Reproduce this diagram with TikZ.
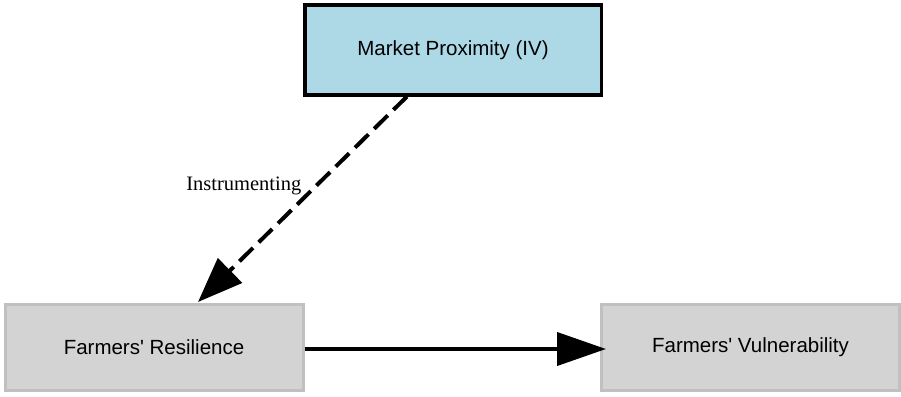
\documentclass[tikz,border=0pt]{standalone}
\usepackage{fontspec}
\setmainfont{Liberation Serif}
\newfontfamily\boxfont{Liberation Sans}
\usetikzlibrary{arrows.meta}

\definecolor{ivblue}{HTML}{ADD8E6}
\definecolor{boxgray}{HTML}{D3D3D3}
\definecolor{edgegray}{HTML}{C0C0C0}

\tikzset{
  varbox/.style={rectangle, inner sep=0pt, align=center,
    font=\boxfont\fontsize{20.5}{24}\selectfont},
  ivbox/.style={varbox, draw=black, fill=ivblue, line width=3.5pt,
    minimum width=296.5pt, minimum height=89.5pt},
  outcomebox/.style={varbox, draw=edgegray, fill=boxgray, line width=3pt,
    minimum width=298pt, minimum height=86pt},
  bigarrow/.style={-{Triangle[length=49pt, width=33pt]}, line width=4pt},
  ivarrow/.style={-{Triangle[length=45pt, width=34pt]}, line width=4pt,
    dash pattern=on 19pt off 8pt},
  edgelabel/.style={font=\fontsize{20.5}{24}\selectfont, inner sep=0pt}
}

\begin{document}
\begin{tikzpicture}[x=1pt, y=-1pt]
  \useasboundingbox (0,0) rectangle (901,396);

  \node[ivbox] (iv) at (453,50) {Market Proximity (IV)};
  \node[outcomebox] (res) at (154,347.5) {Farmers' Resilience};
  \node[outcomebox] (vul) at (750.5,347.5) {Farmers' Vulnerability};

  % instrument points to resilience
  \draw[ivarrow] ([xshift=-46pt]iv.south) -- ([xshift=44pt, yshift=1pt]res.north)
    node[edgelabel, pos=0.434, anchor=east, xshift=-13pt] {Instrumenting};

  % resilience drives vulnerability
  \draw[bigarrow, shorten >=-6pt] (res.east |- 0,349) -- (vul.west |- 0,349);
\end{tikzpicture}
\end{document}
